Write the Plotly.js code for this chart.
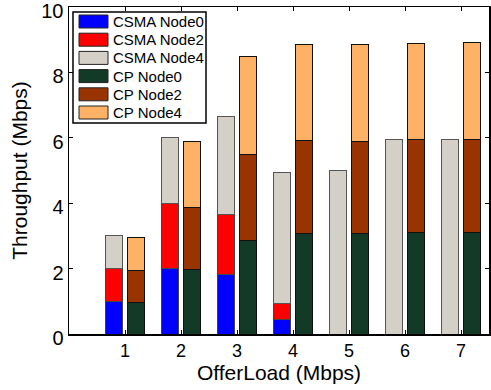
<!DOCTYPE html>
<html><head><meta charset="utf-8">
<script src="https://cdn.plot.ly/plotly-3.0.1.min.js"></script>
<style>html,body{margin:0;padding:0;background:#fff}#chart{width:491px;height:390px}</style>
</head><body><div id="chart"></div>
<script>
const loads = [1, 2, 3, 4, 5, 6, 7];
const seriesNames = ['CSMA Node0', 'CSMA Node2', 'CSMA Node4', 'CP Node0', 'CP Node2', 'CP Node4'];
const csmaNode0 = [1.0, 2.0, 1.83, 0.45, 0, 0, 0];
const csmaNode2 = [1.0, 2.0, 1.83, 0.48, 0, 0, 0];
const csmaNode4 = [1.0, 2.0, 3.0, 4.0, 5.0, 5.94, 5.94];
const cpNode0 = [0.97, 1.96, 2.87, 3.08, 3.07, 3.11, 3.11];
const cpNode2 = [0.97, 1.91, 2.63, 2.84, 2.82, 2.85, 2.85];
const cpNode4 = [1.0, 2.01, 2.99, 2.94, 2.97, 2.93, 2.94];
const yTicks = [0, 2, 4, 6, 8, 10];

const colors = ['#0000FF', '#FF0000', '#D4D0C8', '#123A26', '#993300', '#FFB266'];
const edges = ['#444', '#444', '#555', '#111', '#111', '#111'];
const values = [csmaNode0, csmaNode2, csmaNode4, cpNode0, cpNode2, cpNode4];

const xCsma = loads.map(v => v - 0.2);
const xCp = loads.map(v => v + 0.2);

const data = values.map((y, i) => ({
  type: 'bar', name: seriesNames[i], x: i < 3 ? xCsma : xCp, y: y, width: 0.3,
  showlegend: false,
  marker: {color: colors[i], line: {color: edges[i], width: 1}}
}));

// Legend drawn inside the plot (paper coordinates from pixel layout)
const W = 491, H = 390, M = {l: 69, r: 2, t: 7, b: 56};
const pw = W - M.l - M.r, ph = H - M.t - M.b;
const px = p => (p - M.l) / pw;
const py = p => (H - M.b - p) / ph;
const shapes = [{type: 'rect', xref: 'paper', yref: 'paper',
  x0: px(73), x1: px(206), y0: py(123), y1: py(12),
  fillcolor: '#fff', line: {color: '#000', width: 1.5}, layer: 'above'}];
const annotations = [];
seriesNames.forEach((n, i) => {
  const cy = 21.5 + i * 18.2;
  shapes.push({type: 'rect', xref: 'paper', yref: 'paper',
    x0: px(79), x1: px(108), y0: py(cy + 6.5), y1: py(cy - 6.5),
    fillcolor: colors[i], line: {color: '#222', width: 1}, layer: 'above'});
  annotations.push({xref: 'paper', yref: 'paper', x: px(111), y: py(cy), xanchor: 'left', yanchor: 'middle',
    text: n, showarrow: false, font: {size: 15, color: '#000'}});
});

const layout = {
  width: W, height: H,
  margin: M,
  barmode: 'stack',
  paper_bgcolor: '#fff', plot_bgcolor: '#fff',
  font: {family: 'Liberation Sans, Arial, sans-serif', color: '#000'},
  showlegend: false,
  shapes: shapes, annotations: annotations,
  xaxis: {range: [0, 7.5], tickvals: loads, ticktext: loads.map(String),
    ticks: 'inside', ticklen: 4, tickcolor: '#000', showline: true, linecolor: '#000', linewidth: 1.5,
    mirror: 'ticks', showgrid: false, zeroline: false, tickfont: {size: 18}, ticklabeloverflow: 'allow',
    title: {text: 'OfferLoad (Mbps)', font: {size: 21}, standoff: 0}},
  yaxis: {range: [0, 10], tickvals: yTicks, ticks: 'inside', ticklen: 4, tickcolor: '#000',
    showline: true, linecolor: '#000', linewidth: 1.5, mirror: 'ticks', showgrid: false, zeroline: false,
    tickfont: {size: 20}, ticklabeloverflow: 'allow', ticklabelshift: 4,
    title: {text: 'Throughput (Mbps)', font: {size: 21}, standoff: 8}}
};
Plotly.newPlot('chart', data, layout, {displayModeBar: false, staticPlot: true});
</script></body></html>
